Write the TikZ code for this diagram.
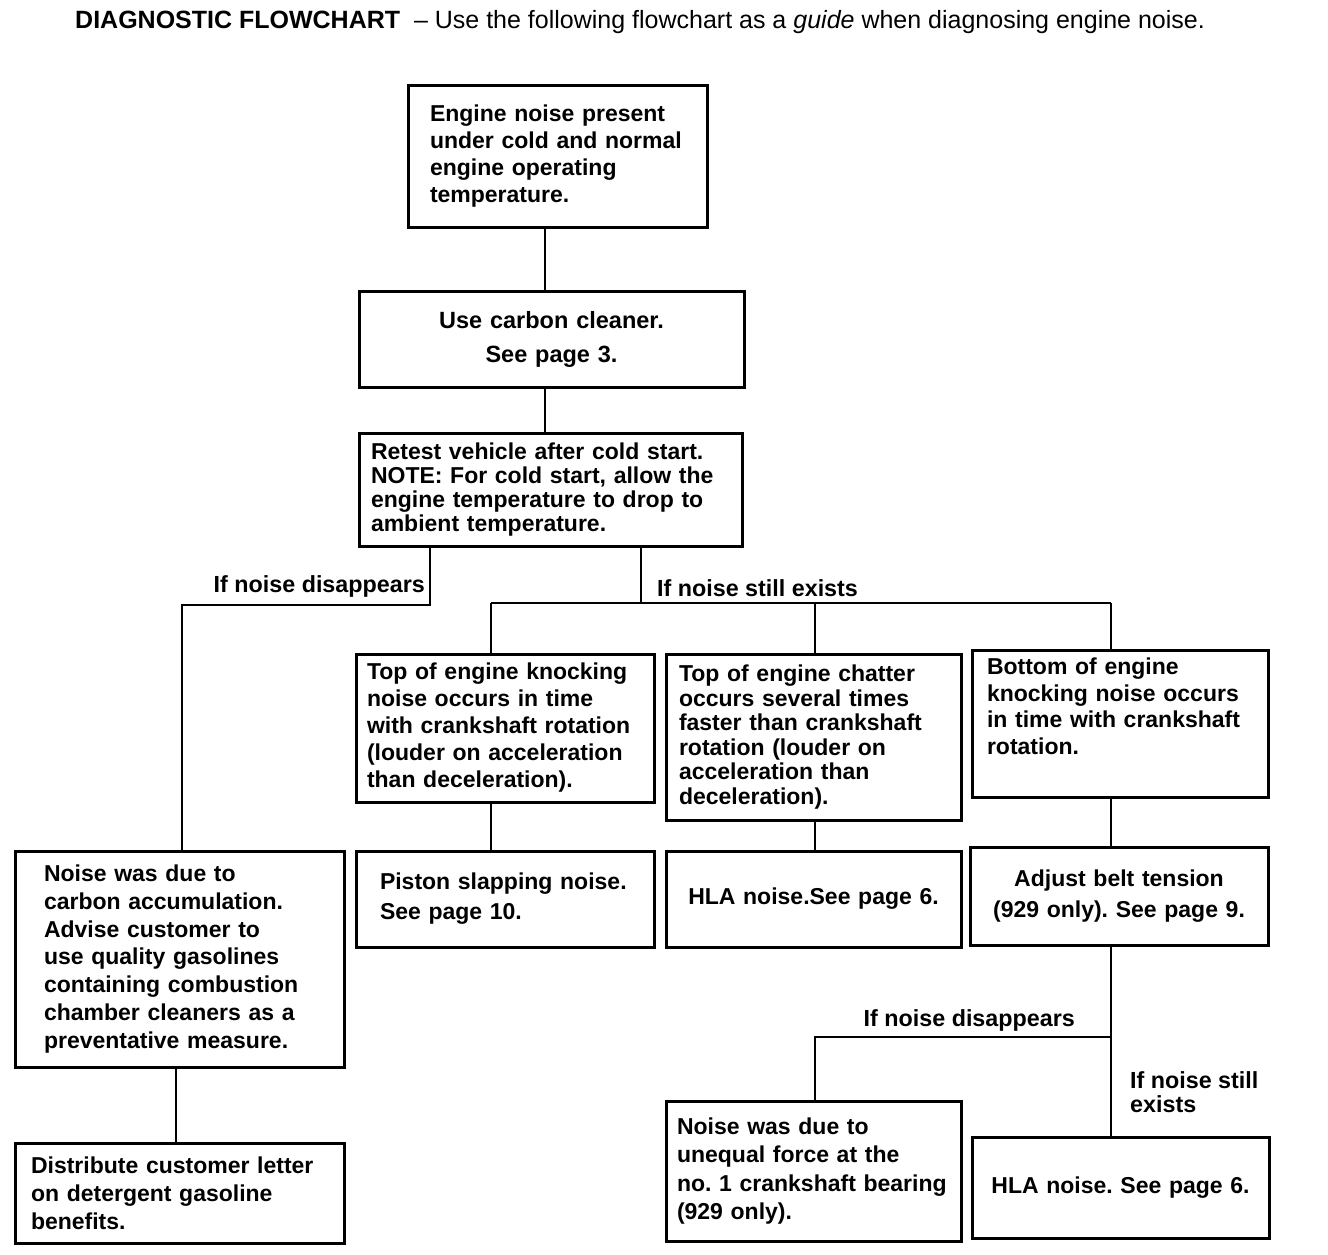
\documentclass[tikz,border=0pt]{standalone}
\usepackage{fontspec}
\setmainfont{Liberation Sans}
\frenchspacing
\begin{document}
\begin{tikzpicture}[x=1pt,y=-1pt,
  box/.style={draw, line width=3pt, rectangle, inner ysep=0pt,
    font=\bfseries\fontsize{23}{27}\selectfont},
  lbl/.style={font=\bfseries\fontsize{23.3}{24}\selectfont, inner sep=0pt, align=left},
  conn/.style={line width=2.6pt}]
\useasboundingbox (0,0) rectangle (1328,1254);
\fill[white] (0,0) rectangle (1328,1254);
% title
\node[anchor=west, inner sep=0pt, font=\fontsize{25}{28}\selectfont] (title) at (75,22)
  {\textbf{DIAGNOSTIC FLOWCHART}\ \ -- Use the following flowchart as a \textit{guide} when diagnosing engine noise.};
% boxes
\node[box, minimum width=299pt, minimum height=142pt, inner xsep=22pt, text width=255pt, align=left] (top) at (557.5,156)
  {Engine noise present\\under cold and normal\\engine operating\\temperature.};
\node[box, minimum width=385pt, minimum height=96pt, inner xsep=10pt, text width=365pt, align=center,
  font=\bfseries\fontsize{23.5}{34}\selectfont] (carbon) at (551.5,339)
  {Use carbon cleaner.\\See page 3.};
\node[box, minimum width=383pt, minimum height=113pt, inner xsep=12pt, text width=359pt, align=left,
  font=\bfseries\fontsize{23}{24}\selectfont] (retest) at (550.5,489.5)
  {Retest vehicle after cold start.\\NOTE: For cold start, allow the\\engine temperature to drop to\\ambient temperature.};
\node[box, minimum width=298pt, minimum height=148pt, inner xsep=11pt, text width=276pt, align=left,
  font=\bfseries\fontsize{23}{27}\selectfont] (bA) at (505,728)
  {Top of engine knocking\\noise occurs in time\\with crankshaft rotation\\(louder on acceleration\\than deceleration).};
\node[box, minimum width=295pt, minimum height=166pt, inner xsep=13pt, text width=269pt, align=left,
  font=\bfseries\fontsize{23}{24.6}\selectfont] (bB) at (813.5,737)
  {Top of engine chatter\\occurs several times\\faster than crankshaft\\rotation (louder on\\acceleration than\\deceleration).};
\node[box, minimum width=296pt, minimum height=147pt, inner xsep=15pt, text width=266pt, align=left,
  font=\bfseries\fontsize{23}{26.7}\selectfont] (bC) at (1120,723.5)
  {Bottom of engine\\knocking noise occurs\\in time with crankshaft\\rotation.\\\strut};
\node[box, minimum width=298pt, minimum height=96pt, inner xsep=24pt, text width=250pt, align=left,
  font=\bfseries\fontsize{23}{30}\selectfont] (piston) at (505,899)
  {Piston slapping noise.\\See page 10.};
\node[box, minimum width=295pt, minimum height=96pt, inner xsep=8pt, text width=279pt, align=center] (hla1) at (813.5,899)
  {HLA noise.See page 6.};
\node[box, minimum width=298pt, minimum height=98pt, inner xsep=8pt, text width=282pt, align=center,
  font=\bfseries\fontsize{23}{31}\selectfont] (adjust) at (1119,896)
  {Adjust belt tension\\(929 only). See page 9.};
\node[box, minimum width=329pt, minimum height=216pt, inner xsep=29pt, text width=271pt, align=left,
  font=\bfseries\fontsize{23}{27.7}\selectfont] (noise) at (179.5,959)
  {Noise was due to\\carbon accumulation.\\Advise customer to\\use quality gasolines\\containing combustion\\chamber cleaners as a\\preventative measure.};
\node[box, minimum width=329pt, minimum height=100pt, inner xsep=16pt, text width=297pt, align=left,
  font=\bfseries\fontsize{23}{28}\selectfont] (distrib) at (179.5,1193)
  {Distribute customer letter\\on detergent gasoline\\benefits.};
\node[box, minimum width=295pt, minimum height=140pt, inner xsep=11pt, text width=273pt, align=left,
  font=\bfseries\fontsize{23}{28.5}\selectfont] (unequal) at (813.5,1171)
  {Noise was due to\\unequal force at the\\no. 1 crankshaft bearing\\(929 only).};
\node[box, minimum width=297pt, minimum height=101pt, inner xsep=8pt, text width=281pt, align=center] (hla2) at (1120.5,1187.5)
  {HLA noise. See page 6.};
% coordinates
\coordinate (x545) at (545,0);
\coordinate (xL) at (430,605);
\coordinate (jL) at (182,605);
\coordinate (xR) at (641,603);
\coordinate (busA) at (491,603);
\coordinate (busB) at (815,603);
\coordinate (busC) at (1111,603);
\coordinate (x176) at (176,0);
\coordinate (jR) at (1111,1037);
\coordinate (jU) at (815,1037);
% connectors
\draw[conn] (top.south -| x545) -- (carbon.north -| x545);
\draw[conn] (carbon.south -| x545) -- (retest.north -| x545);
\draw[conn] (retest.south -| xL) -- (xL) -- (jL) -- (noise.north -| jL);
\draw[conn] (retest.south -| xR) -- (xR);
\draw[conn] (busA) -- (busC);
\draw[conn] (busA) -- (bA.north -| busA);
\draw[conn] (busB) -- (bB.north -| busB);
\draw[conn] (busC) -- (bC.north -| busC);
\draw[conn] (bA.south -| busA) -- (piston.north -| busA);
\draw[conn] (bB.south -| busB) -- (hla1.north -| busB);
\draw[conn] (bC.south -| busC) -- (adjust.north -| busC);
\draw[conn] (noise.south -| x176) -- (distrib.north -| x176);
\draw[conn] (adjust.south -| busC) -- (hla2.north -| busC);
\draw[conn] (jR) -- (jU) -- (unequal.north -| jU);
% labels
\node[lbl, anchor=east] (l1) at (425,586) {If noise disappears};
\node[lbl, anchor=west] (l2) at (657,588) {If noise still exists};
\node[lbl, anchor=east] (l3) at (1075,1020) {If noise disappears};
\node[lbl, anchor=west] (l4) at (1130,1092) {If noise still\\exists};
\end{tikzpicture}
\end{document}
